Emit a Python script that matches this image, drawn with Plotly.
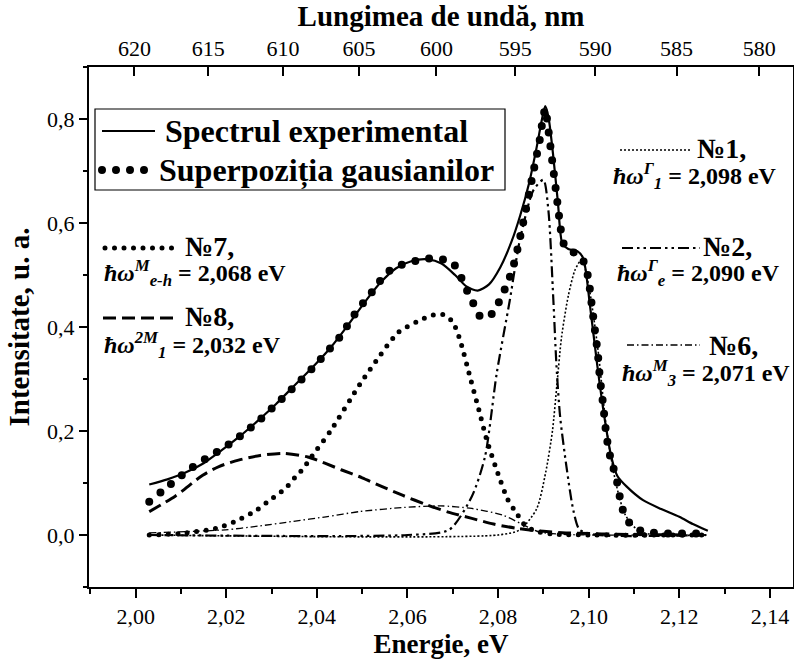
import plotly.graph_objects as go

# ---- data -----------------------------------------------------------------
# Experimental emission spectrum: photon energy (eV) / intensity (a.u.)
exp_e = [2.003, 2.007, 2.011, 2.015, 2.019, 2.023, 2.027, 2.031, 2.035, 2.039,
         2.043, 2.047, 2.0505, 2.054, 2.0575, 2.061, 2.0645, 2.0675, 2.0705, 2.073,
         2.0755, 2.078, 2.0805, 2.083, 2.0849, 2.0868, 2.0885, 2.0897, 2.0904, 2.0911,
         2.0921, 2.0932, 2.0942, 2.0955, 2.0975, 2.0988, 2.1003, 2.1019, 2.1035, 2.105,
         2.1063, 2.1084, 2.112, 2.116, 2.12, 2.123, 2.1263]
exp_i = [0.097, 0.107, 0.120, 0.138, 0.163, 0.190, 0.220, 0.252, 0.287, 0.322,
         0.360, 0.405, 0.447, 0.485, 0.513, 0.527, 0.530, 0.522, 0.500, 0.478,
         0.470, 0.482, 0.515, 0.565, 0.615, 0.675, 0.745, 0.800, 0.825, 0.805,
         0.735, 0.640, 0.560, 0.550, 0.546, 0.532, 0.440, 0.326, 0.225, 0.150,
         0.114, 0.093, 0.067, 0.050, 0.035, 0.021, 0.008]

# Sum of the fitted Gaussian components
sum_e = [2.003, 2.0059, 2.0089, 2.0123, 2.0153, 2.0185, 2.0215, 2.0245, 2.0275, 2.0305,
         2.0335, 2.0365, 2.0395, 2.0422, 2.045, 2.048, 2.0502, 2.0525, 2.0547, 2.0572,
         2.0598, 2.0628, 2.0657, 2.0698, 2.0716, 2.0731, 2.0745, 2.0764, 2.0789, 2.0804,
         2.0822, 2.0833, 2.0844, 2.0852, 2.086, 2.0868, 2.0876, 2.0884, 2.0892, 2.0898,
         2.0904, 2.0908, 2.0913, 2.0918, 2.0923, 2.0928, 2.0933, 2.0938, 2.0945, 2.0962,
         2.0978, 2.0992, 2.1, 2.1005, 2.101, 2.1015, 2.102, 2.1025, 2.1032, 2.1038,
         2.1045, 2.1054, 2.1065, 2.1073, 2.1091, 2.1121, 2.115, 2.118, 2.121, 2.124, 2.126]
sum_i = [0.064, 0.085, 0.106, 0.129, 0.146, 0.163, 0.180, 0.200, 0.222, 0.247,
         0.272, 0.298, 0.325, 0.352, 0.380, 0.420, 0.446, 0.471, 0.497, 0.516,
         0.522, 0.529, 0.532, 0.525, 0.500, 0.471, 0.446, 0.417, 0.427, 0.452,
         0.487, 0.515, 0.554, 0.587, 0.620, 0.655, 0.690, 0.725, 0.760, 0.795,
         0.820, 0.800, 0.765, 0.730, 0.695, 0.660, 0.625, 0.590, 0.560, 0.545,
         0.540, 0.520, 0.490, 0.455, 0.420, 0.385, 0.350, 0.300, 0.250, 0.200,
         0.160, 0.131, 0.093, 0.054, 0.022, 0.006, 0.004, 0.003, 0.003, 0.003, 0.003]

# Component No1, 2.098 eV
g1_e = [2.003, 2.08, 2.0848, 2.0885, 2.0905, 2.092, 2.093, 2.094, 2.0955, 2.097,
        2.0985, 2.1, 2.102, 2.104, 2.106, 2.108, 2.111, 2.115, 2.126]
g1_i = [0.0, 0.0, 0.01, 0.05, 0.12, 0.20, 0.29, 0.38, 0.46, 0.51,
        0.53, 0.48, 0.36, 0.20, 0.10, 0.04, 0.008, 0.0, 0.0]

# Component No2, 2.090 eV
g2_e = [2.003, 2.06, 2.0692, 2.0742, 2.0771, 2.0797, 2.0826, 2.0848, 2.0878, 2.09,
        2.0911, 2.0922, 2.0929, 2.0937, 2.0951, 2.0966, 2.098, 2.102, 2.126]
g2_i = [0.0, 0.0, 0.01, 0.074, 0.15, 0.311, 0.452, 0.567, 0.663, 0.683,
        0.625, 0.452, 0.324, 0.227, 0.131, 0.048, 0.01, 0.0, 0.0]

# Component No6, 2.071 eV
g6_e = [2.003, 2.0198, 2.027, 2.0346, 2.042, 2.0494, 2.0593, 2.0673, 2.0742, 2.0811,
        2.085, 2.089, 2.095, 2.126]
g6_i = [0.004, 0.010, 0.017, 0.026, 0.035, 0.045, 0.053, 0.056, 0.051, 0.038,
        0.022, 0.006, 0.001, 0.0]

# Component No7, 2.068 eV
g7_e = [2.003, 2.01, 2.0178, 2.0227, 2.0267, 2.0296, 2.0331, 2.0351, 2.0371, 2.0386,
        2.043, 2.0495, 2.054, 2.058, 2.0628, 2.0657, 2.0683, 2.0701, 2.0716, 2.0738,
        2.0756, 2.0775, 2.0797, 2.0822, 2.0841, 2.0855, 2.088, 2.092, 2.1, 2.126]
g7_i = [0.0, 0.003, 0.013, 0.029, 0.048, 0.067, 0.090, 0.110, 0.129, 0.148,
        0.200, 0.290, 0.346, 0.390, 0.413, 0.423, 0.423, 0.408, 0.375, 0.304,
        0.246, 0.183, 0.125, 0.067, 0.042, 0.023, 0.008, 0.002, 0.0, 0.0]

# Component No8, 2.032 eV
g8_e = [2.003, 2.0088, 2.0148, 2.0185, 2.0227, 2.0275, 2.0327, 2.038, 2.0455, 2.05,
        2.0544, 2.059, 2.0643, 2.069, 2.0742, 2.079, 2.084, 2.09, 2.095, 2.11, 2.126]
g8_i = [0.045, 0.075, 0.115, 0.132, 0.144, 0.153, 0.157, 0.150, 0.125, 0.110,
        0.093, 0.076, 0.058, 0.044, 0.032, 0.021, 0.013, 0.007, 0.004, 0.001, 0.0]

# Axis ticks
energy_ticks = [2.00, 2.02, 2.04, 2.06, 2.08, 2.10, 2.12, 2.14]
wavelength_ticks = [620, 615, 610, 605, 600, 595, 590, 585, 580]
intensity_ticks = [0.0, 0.2, 0.4, 0.6, 0.8]

HC = 1239.84  # eV*nm, E = hc / lambda

# ---- styles ---------------------------------------------------------------
FONT = "Liberation Serif"
ST_EXP = dict(width=2.2, dash="solid")
ST_SUM = dict(width=8, dash="0px,14px")
ST_1 = dict(width=1.6, dash="2px,2px")
ST_2 = dict(width=2.2, dash="11px,4px,2.5px,4px,2.5px,4px")
ST_6 = dict(width=1.3, dash="7px,3px,1.5px,3px")
ST_7 = dict(width=5, dash="0px,9.5px")
ST_8 = dict(width=3, dash="13px,6px")

# plot area in page pixels
PL, PR, PT, PB = 89, 793, 67, 587


def pxx(x):
    return (x - PL) / (PR - PL)


def pxy(y):
    return (PB - y) / (PB - PT)


fig = go.Figure()


def add_curve(e, i, st, name):
    fig.add_trace(go.Scatter(
        x=e, y=i, mode="lines", name=name,
        line=dict(color="black", width=st["width"], dash=st["dash"],
                  shape="spline", smoothing=0.7),
        hoverinfo="skip", showlegend=False))


add_curve(g8_e, g8_i, ST_8, "No8")
add_curve(g6_e, g6_i, ST_6, "No6")
add_curve(g7_e, g7_i, ST_7, "No7")
add_curve(g2_e, g2_i, ST_2, "No2")
add_curve(g1_e, g1_i, ST_1, "No1")
add_curve(sum_e, sum_i, ST_SUM, "Superpoziția gausianilor")
add_curve(exp_e, exp_i, ST_EXP, "Spectrul experimental")

# carrier trace for the wavelength axis
fig.add_trace(go.Scatter(x=[HC / w for w in wavelength_ticks],
                         y=[None] * len(wavelength_ticks), xaxis="x2",
                         mode="lines", hoverinfo="skip", showlegend=False))

xr = [1.9897, 2.1451]
axis_common = dict(showgrid=False, zeroline=False, showline=True,
                   linecolor="black", linewidth=2, tickcolor="black",
                   tickwidth=2, automargin=False,
                   tickfont=dict(family=FONT, size=22, color="black"))

fig.update_layout(
    width=794, height=660,
    margin=dict(l=PL, r=794 - PR, t=PT, b=660 - PB),
    paper_bgcolor="white", plot_bgcolor="white",
    font=dict(family=FONT, color="black", size=22),
    separators=", ",
    showlegend=False,
    xaxis=dict(range=xr, tickvals=energy_ticks, tickformat=".2f",
               ticks="outside", ticklen=9,
               minor=dict(dtick=0.01, tick0=2.0, ticks="outside", ticklen=5,
                          tickwidth=2, tickcolor="black", showgrid=False),
               title=dict(text="<b>Energie, eV</b>", standoff=6,
                          font=dict(family=FONT, size=27, color="black")),
               **axis_common),
    xaxis2=dict(range=xr, overlaying="x", side="top", anchor="y",
                tickmode="array",
                tickvals=[HC / w for w in wavelength_ticks],
                ticktext=[str(w) for w in wavelength_ticks],
                ticks="inside", ticklen=9,
                title=dict(text="<b>Lungimea de undă, nm</b>", standoff=6,
                           font=dict(family=FONT, size=29, color="black")),
                **axis_common),
    yaxis=dict(range=[-0.1, 0.9], tickvals=intensity_ticks, tickformat=".1f",
               ticks="outside", ticklen=8, mirror=True,
               minor=dict(dtick=0.1, tick0=0.0, ticks="outside", ticklen=4,
                          tickwidth=2, tickcolor="black", showgrid=False),
               title=dict(text="<b>Intensitate, u. a.</b>", standoff=9,
                          font=dict(family=FONT, size=29, color="black")),
               **axis_common),
)


def sample(x0, x1, y, st):
    fig.add_shape(type="line", xref="paper", yref="paper",
                  x0=pxx(x0), x1=pxx(x1), y0=pxy(y), y1=pxy(y),
                  line=dict(color="black", width=st["width"], dash=st["dash"]))


def label(x, y, text, size=28):
    fig.add_annotation(x=pxx(x), y=pxy(y), xref="paper", yref="paper",
                       text=text, showarrow=False, xanchor="left",
                       yanchor="middle",
                       font=dict(family=FONT, size=size, color="black"))


# legend box
fig.add_shape(type="rect", xref="paper", yref="paper",
              x0=pxx(95), x1=pxx(505), y0=pxy(190), y1=pxy(109),
              line=dict(color="black", width=1.2))
sample(102, 155, 131, ST_EXP)
label(163, 131, "<b>Spectrul experimental</b>", 32)
sample(102, 150, 170, ST_SUM)
label(157, 170, "<b>Superpoziția gausianilor</b>", 32)

# component captions
sample(105, 175, 248, ST_7)
label(183, 246, "<b>№7,</b>")
label(102, 273, "<b><i>ħω</i><sup><i>M</i></sup><sub><i>e-h</i></sub> = 2,068 eV</b>", 24)

sample(103, 178, 318, ST_8)
label(183, 316, "<b>№8,</b>")
label(102, 345, "<b><i>ħω</i><sup><i>2M</i></sup><sub><i>1</i></sub> = 2,032 eV</b>", 24)

sample(620, 690, 150, ST_1)
label(695, 148, "<b>№1,</b>")
label(611, 176, "<b><i>ħω</i><sup><i>Γ</i></sup><sub><i>1</i></sub> = 2,098 eV</b>", 24)

sample(622, 700, 248, ST_2)
label(701, 246, "<b>№2,</b>")
label(615, 273, "<b><i>ħω</i><sup><i>Γ</i></sup><sub><i>e</i></sub> = 2,090 eV</b>", 24)

sample(627, 700, 345, ST_6)
label(707, 345, "<b>№6,</b>")
label(620, 373, "<b><i>ħω</i><sup><i>M</i></sup><sub><i>3</i></sub> = 2,071 eV</b>", 24)

# zero-length dashes need round caps to show up as round dots
round_caps = """
var gd = document.getElementById('{plot_id}');
function roundDots() {
  gd.querySelectorAll('path').forEach(function (p) {
    var d = (p.style.strokeDasharray || p.getAttribute('stroke-dasharray') || '').trim();
    if (/^0(px)?\\s*,/.test(d)) { p.style.strokeLinecap = 'round'; }
  });
}
roundDots();
gd.on('plotly_afterplot', roundDots);
"""

fig.write_html("out.html", post_script=round_caps)
